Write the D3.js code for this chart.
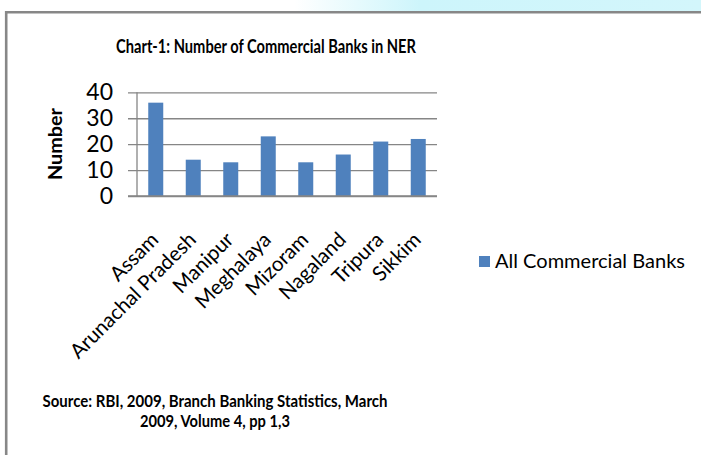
<!DOCTYPE html>
<html>
<head>
<meta charset="utf-8">
<script src="https://cdn.jsdelivr.net/npm/d3@7"></script>
<style>
  body { margin: 0; background: #fff; }
  svg { display: block; font-family: Lato, "Open Sans", sans-serif; }
</style>
</head>
<body>
<svg id="chart" width="701" height="455"></svg>
<script>
/** chart data */
var states = ['Assam', 'Arunachal Pradesh', 'Manipur', 'Meghalaya', 'Mizoram', 'Nagaland', 'Tripura', 'Sikkim'];
var banks = [36, 14, 13, 23, 13, 16, 21, 22];
var yTicks = [0, 10, 20, 30, 40];
var seriesName = 'All Commercial Banks';
var titleText = 'Chart-1: Number of Commercial Banks in NER';
var sourceLines = ['Source: RBI, 2009, Branch Banking Statistics, March', '2009, Volume 4, pp 1,3'];

/** plot box */
var plotLeft = 137,
    plotRight = 437,
    plotTop = 92.3,
    plotBottom = 196,
    gridStart = 128;

var barColor = '#4f81bd',
    gridColor = '#868686';

var svg = d3.select('#chart');

// light cyan band over the top edge
var defs = svg.append('defs');
var grad = defs.append('linearGradient').attr('id', 'band')
    .attr('x1', 0).attr('x2', 1).attr('y1', 0).attr('y2', 0);
grad.append('stop').attr('offset', '0.42').attr('stop-color', '#cdf5fb').attr('stop-opacity', 0);
grad.append('stop').attr('offset', '0.6').attr('stop-color', '#cdf5fb').attr('stop-opacity', 1);
grad.append('stop').attr('offset', '1').attr('stop-color', '#d3f6fb').attr('stop-opacity', 1);
svg.append('rect').attr('x', 0).attr('y', 0).attr('width', 701).attr('height', 11)
    .attr('fill', 'url(#band)');

// frame
svg.append('path')
    .attr('d', 'M6.2,455 V12.3 H701')
    .attr('fill', 'none')
    .attr('stroke', '#878787')
    .attr('stroke-width', 2.6);

// scales
var x = d3.scaleBand()
    .domain(states)
    .range([plotLeft, plotRight])
    .paddingInner(0.6)
    .paddingOuter(0.3);

var y = d3.scaleLinear()
    .domain([0, 40])
    .range([plotBottom, plotTop]);

// gridlines (with the short tick stubs left of the axis)
var grid = svg.append('g')
    .attr('transform', 'translate(' + plotRight + ',0)')
    .call(d3.axisLeft(y).tickValues(yTicks).tickSize(plotRight - gridStart).tickFormat(''));
grid.select('.domain').remove();
grid.selectAll('line').attr('stroke', gridColor).attr('stroke-width', 1.3);

// vertical axis line
svg.append('line')
    .attr('x1', plotLeft).attr('x2', plotLeft)
    .attr('y1', y(40)).attr('y2', y(0))
    .attr('stroke', gridColor).attr('stroke-width', 1.3);

// y tick labels
var yAxis = svg.append('g')
    .attr('transform', 'translate(' + plotLeft + ',0)')
    .call(d3.axisLeft(y).tickValues(yTicks).tickSize(0).tickPadding(24));
yAxis.select('.domain').remove();
yAxis.selectAll('text')
    .attr('font-family', 'Lato, sans-serif')
    .attr('font-size', 23)
    .attr('fill', '#000');

// bars
svg.append('g').selectAll('rect')
    .data(banks)
    .enter()
    .append('rect')
    .attr('x', function (d, i) { return x(states[i]); })
    .attr('y', function (d) { return y(d); })
    .attr('width', x.bandwidth())
    .attr('height', function (d) { return y(0) - y(d); })
    .attr('fill', barColor);

// redraw the zero line over the bars
svg.append('line')
    .attr('x1', gridStart).attr('x2', plotRight)
    .attr('y1', y(0)).attr('y2', y(0))
    .attr('stroke', gridColor).attr('stroke-width', 1.5);

// category labels, rotated
svg.append('g').selectAll('text')
    .data(states)
    .enter()
    .append('text')
    .attr('transform', function (d) {
        return 'translate(' + (x(d) + x.bandwidth() / 2 + 4) + ',' + (plotBottom + 45) + ') rotate(-45)';
    })
    .attr('text-anchor', 'end')
    .attr('font-size', 20.5)
    .attr('fill', '#000')
    .text(function (d) { return d; });

// y title
svg.append('text')
    .attr('transform', 'translate(62,144) rotate(-90)')
    .attr('text-anchor', 'middle')
    .attr('font-size', 19)
    .attr('font-weight', 'bold')
    .attr('textLength', 72)
    .attr('lengthAdjust', 'spacingAndGlyphs')
    .text('Number');

// title
svg.append('text')
    .attr('x', 116).attr('y', 52.5)
    .attr('font-size', 18)
    .attr('font-weight', 'bold')
    .attr('textLength', 300)
    .attr('lengthAdjust', 'spacingAndGlyphs')
    .text(titleText);

// legend
svg.append('rect')
    .attr('x', 479).attr('y', 256)
    .attr('width', 11).attr('height', 11)
    .attr('fill', barColor);
svg.append('text')
    .attr('x', 495).attr('y', 267.5)
    .attr('font-size', 19)
    .attr('textLength', 190)
    .attr('lengthAdjust', 'spacingAndGlyphs')
    .text(seriesName);

// source note
var srcWidths = [345, 150];
svg.append('g').selectAll('text')
    .data(sourceLines)
    .enter()
    .append('text')
    .attr('x', 215)
    .attr('y', function (d, i) { return 406.5 + i * 20; })
    .attr('text-anchor', 'middle')
    .attr('font-size', 17)
    .attr('font-weight', 'bold')
    .attr('textLength', function (d, i) { return srcWidths[i]; })
    .attr('lengthAdjust', 'spacingAndGlyphs')
    .text(function (d) { return d; });
</script>
</body>
</html>
